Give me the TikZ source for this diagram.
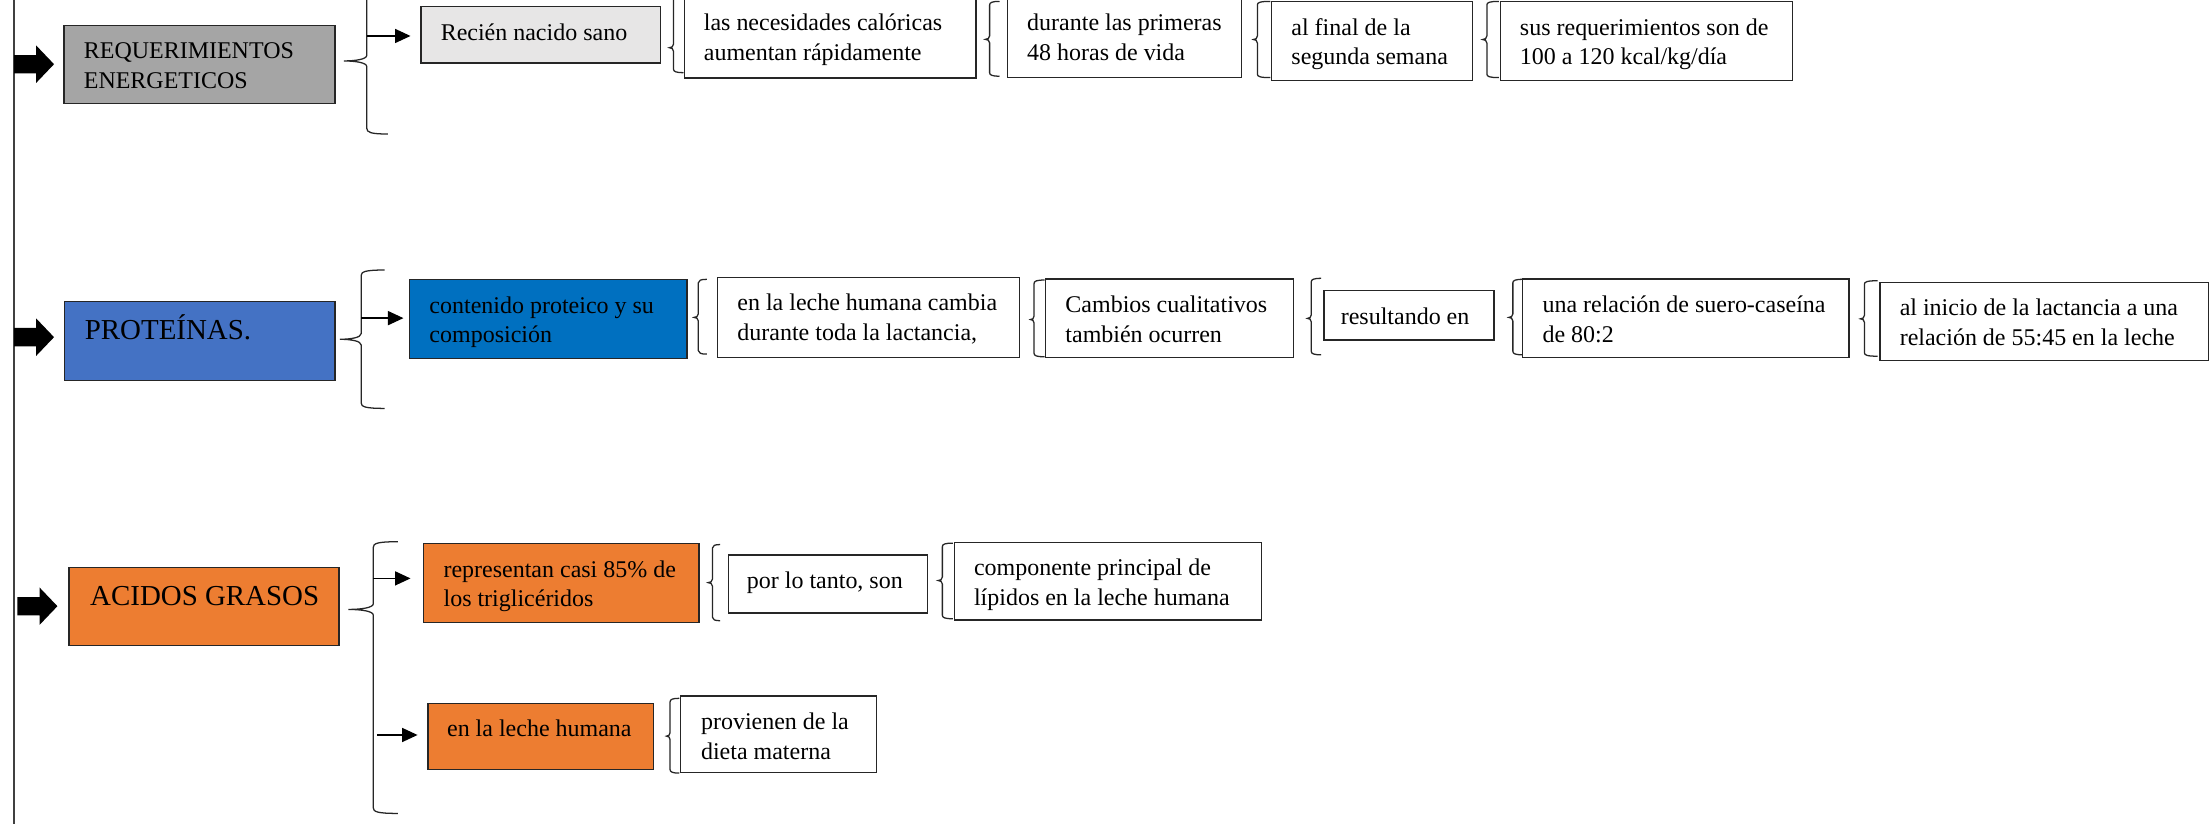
\documentclass[tikz,border=0pt]{standalone}
\usepackage{fontspec}
\setmainfont{Liberation Serif}
\usetikzlibrary{arrows.meta}
\definecolor{reqgray}{HTML}{A5A5A5}
\definecolor{recgray}{HTML}{E7E6E6}
\definecolor{protblue}{HTML}{4472C4}
\definecolor{contblue}{HTML}{0070C0}
\definecolor{orng}{HTML}{ED7D31}
% name, x, y, w, h, fill, left pad, text
\newcommand{\tbox}[8]{%
  \node[boxst, fill=#6, minimum width=#4pt, minimum height=#5pt] (#1) at (#2,#3)
    {\parbox[c][#5pt][t]{#4pt}{\leftskip=#7pt\relax\rule{0pt}{23.8pt}#8}};}
% brace: xv, top, tipx, tipy, bottom, hookx, radius
\newcommand{\curlybr}[7]{%
  \draw[brst] (#6,#2) .. controls ({#1+#7*0.7},#2) and (#1,{#2+#7*0.3}) .. (#1,{#2+#7})
    -- (#1,{#4-#7}) .. controls (#1,{#4-#7*0.3}) and ({(#1+#3)/2},#4) .. (#3,#4)
    .. controls ({(#1+#3)/2},#4) and (#1,{#4+#7*0.3}) .. (#1,{#4+#7})
    -- (#1,{#5-#7}) .. controls (#1,{#5-#7*0.3}) and ({#1+#7*0.7},#5) .. (#6,#5);}
% block arrow: x0, xhead, xtip, ycenter
\newcommand{\blockarrow}[4]{%
  \fill[black] (#1,{#4-6.5}) -- (#2,{#4-6.5}) -- (#2,{#4-13.3}) -- (#3,#4)
    -- (#2,{#4+13.3}) -- (#2,{#4+6.5}) -- (#1,{#4+6.5}) -- cycle;}
\begin{document}
\begin{tikzpicture}[x=1pt,y=-1pt,
  every node/.style={font=\fontsize{17pt}{21pt}\selectfont},
  boxst/.style={draw=black!85, line width=0.9pt, inner sep=0pt, anchor=north west},
  conn/.style={line width=0.9pt, -{Triangle[length=11pt,width=10pt]}},
  brst/.style={line width=0.9pt, black!85}]
\useasboundingbox (0,0) rectangle (1568,584);
\clip (0,0) rectangle (1568,584);
\fill[white] (0,0) rectangle (1568,584);

% main vertical line
\coordinate (vtop) at (10,0);
\coordinate (vbot) at (10,584);
\draw[line width=0.9pt, black!75] (vtop) -- (vbot);

% ---------- row 1 ----------
\tbox{req}{45}{17.5}{192}{55.3}{reqgray}{14}{REQUERIMIENTOS\\ENERGETICOS}
\tbox{recien}{298}{4.3}{169.5}{40}{recgray}{14}{Recién nacido sano}
\tbox{nec}{484.5}{-2.7}{206.8}{57.5}{white}{14}{las necesidades calóricas\\aumentan rápidamente}
\tbox{dur}{713.7}{-2.7}{166}{57}{white}{14}{durante las primeras\\48 horas de vida}
\tbox{fin}{901}{0.7}{142.3}{56}{white}{14}{al final de la\\segunda semana}
\tbox{sus}{1063}{0.7}{207}{56}{white}{14}{sus requerimientos son de\\100 a 120 kcal/kg/día}

\blockarrow{10}{25.6}{38.3}{45.5}
\curlybr{260}{-9}{243.8}{43.2}{95}{275}{4}
\coordinate (s1) at (260,25.5);
\draw[conn, shorten >=7pt] (s1) -- (s1 -| recien.west);
\curlybr{477.4}{-5}{474.5}{33.8}{51.5}{484.5}{2.5}
\curlybr{701.5}{1}{698.5}{27.9}{54}{708.5}{2.5}
\curlybr{891.3}{1}{888.5}{28}{55}{900.5}{2.5}
\curlybr{1054}{1}{1051}{28}{55}{1062.5}{2.5}

% ---------- row 2 ----------
\tbox{prot}{45.2}{213.4}{191.8}{56}{protblue}{14.5}{\fontsize{20.5pt}{24pt}\selectfont\rule{0pt}{27pt}PROTEÍNAS.}
\tbox{cont}{290}{197.8}{196.5}{55.8}{contblue}{14}{contenido proteico y su\\composición}
\tbox{cambia}{508.3}{196.2}{213.9}{56.7}{white}{14}{en la leche humana cambia\\durante toda la lactancia,}
\tbox{cual}{740.8}{197.3}{175.4}{55.6}{white}{14}{Cambios cualitativos\\también ocurren}
\tbox{res}{938}{205.6}{120.6}{35}{white}{12}{resultando en}
\tbox{rel}{1079}{197.3}{231.3}{55.6}{white}{14}{una relación de suero-caseína\\de 80:2}
\tbox{ini}{1332.2}{199.7}{232.8}{55.5}{white}{14}{al inicio de la lactancia a una\\relación de 55:45 en la leche}

\blockarrow{10}{25.6}{38.3}{239}
\curlybr{256}{191.4}{241}{240.5}{289.5}{272.6}{4}
\coordinate (s2) at (256,225.5);
\draw[conn, shorten >=4pt] (s2) -- (s2 -| cont.west);
\curlybr{495}{198}{492}{225}{251}{501}{2.5}
\curlybr{733}{198.5}{730.5}{226.5}{252.9}{740.5}{2.5}
\curlybr{929.5}{197.3}{926.8}{225.7}{251.5}{936.5}{2.5}
\curlybr{1072.4}{198}{1069.5}{225}{251.5}{1079.5}{2.5}
\curlybr{1321.6}{199}{1318.8}{226}{252.5}{1331}{2.5}

% ---------- row 3 ----------
\tbox{acid}{48.5}{401.8}{191.4}{55.5}{orng}{15}{\fontsize{20.5pt}{24pt}\selectfont\rule{0pt}{26.7pt}ACIDOS GRASOS}
\tbox{trig}{300}{385}{195}{56}{orng}{14}{representan casi 85\% de\\los triglicéridos}
\tbox{son}{516}{393}{141}{41}{white}{13}{por lo tanto, son}
\tbox{comp}{676}{384}{218}{55}{white}{14}{componente principal de\\lípidos en la leche humana}
\tbox{lech}{303}{498}{160}{47}{orng}{13.5}{en la leche humana}
\tbox{diet}{482}{493}{139}{54}{white}{14.5}{provienen de la\\dieta materna}

\blockarrow{12.3}{28}{40.7}{429.7}
\curlybr{264.6}{384}{247}{432}{576.6}{282}{4}
\coordinate (s3) at (264.6,410);
\draw[conn, shorten >=9pt] (s3) -- (s3 -| trig.west);
\coordinate (s4) at (267.5,521);
\draw[conn, shorten >=7pt] (s4) -- (s4 -| lech.west);
\curlybr{505}{386}{502}{413}{440}{510.5}{2.5}
\curlybr{668}{385}{665}{411.5}{438.6}{675.5}{2.5}
\curlybr{475}{495}{472.5}{521.8}{548}{481.5}{2.5}
\end{tikzpicture}
\end{document}
